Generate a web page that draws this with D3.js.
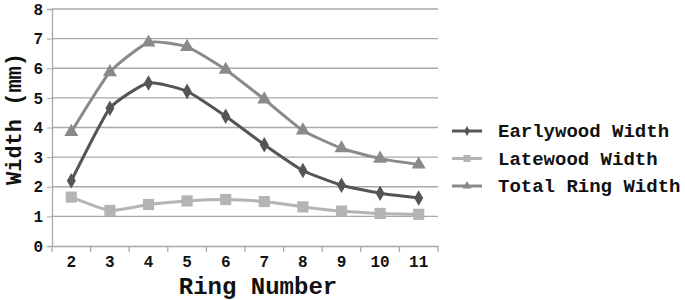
<!DOCTYPE html>
<html>
<head>
<meta charset="utf-8">
<script src="https://cdn.jsdelivr.net/npm/d3@7"></script>
<style>
  body { margin: 0; background: #fff; }
  text { font-family: "Liberation Mono", "Courier New", monospace; font-weight: bold; }
</style>
</head>
<body>
<svg id="chart" width="685" height="300"></svg>
<script>
const rings = [2, 3, 4, 5, 6, 7, 8, 9, 10, 11]
const earlywood = [2.2, 4.65, 5.5, 5.22, 4.38, 3.42, 2.55, 2.05, 1.78, 1.62]
const latewood = [1.65, 1.2, 1.4, 1.52, 1.57, 1.5, 1.32, 1.18, 1.1, 1.07]
const totalRing = [3.85, 5.87, 6.87, 6.72, 5.95, 4.95, 3.9, 3.3, 2.95, 2.75]
const yTicks = [0, 1, 2, 3, 4, 5, 6, 7, 8]

const series = [
  { name: 'Earlywood Width', values: earlywood, color: '#555555', shape: d3.symbolDiamond, size: 70 },
  { name: 'Latewood Width', values: latewood, color: '#b4b4b4', shape: d3.symbolSquare, size: 125 },
  { name: 'Total Ring Width', values: totalRing, color: '#8a8a8a', shape: d3.symbolTriangle, size: 85 }
]

const svg = d3.select('#chart')
const plotLeft = 52, plotRight = 438, plotTop = 9, plotBottom = 246

const x = d3.scaleBand().domain(rings).range([plotLeft, plotRight])
const y = d3.scaleLinear().domain([0, 8]).range([plotBottom, plotTop])

// gridlines
svg.append('g')
  .selectAll('line')
  .data(yTicks.filter(d => d > 0))
  .join('line')
  .attr('x1', plotLeft).attr('x2', plotRight)
  .attr('y1', d => y(d)).attr('y2', d => y(d))
  .attr('stroke', '#a9a9a9').attr('stroke-width', 1.3)

// y axis
const yAxis = svg.append('g')
  .attr('transform', `translate(${plotLeft},0)`)
  .call(d3.axisLeft(y).tickValues(yTicks).tickSize(5).tickPadding(4))
yAxis.select('.domain').attr('stroke', '#a9a9a9').attr('stroke-width', 1.3)
yAxis.selectAll('.tick line').attr('stroke', '#a9a9a9')
yAxis.selectAll('text').attr('font-size', 16).attr('fill', '#111')
  .attr('font-family', '"Liberation Mono", monospace').attr('font-weight', 'bold')

// x axis
const xAxis = svg.append('g')
  .attr('transform', `translate(0,${plotBottom})`)
  .call(d3.axisBottom(x).tickSize(0).tickPadding(10))
xAxis.select('.domain').attr('stroke', '#a9a9a9').attr('stroke-width', 1.3)
xAxis.selectAll('text').attr('font-size', 16).attr('fill', '#111')
  .attr('font-family', '"Liberation Mono", monospace').attr('font-weight', 'bold')

// x tick marks at band boundaries
svg.append('g')
  .selectAll('line')
  .data(rings.concat(['end']))
  .join('line')
  .attr('x1', d => d === 'end' ? plotRight : x(d))
  .attr('x2', d => d === 'end' ? plotRight : x(d))
  .attr('y1', plotBottom).attr('y2', plotBottom + 6)
  .attr('stroke', '#a9a9a9').attr('stroke-width', 1.3)

const cx = d => x(d) + x.bandwidth() / 2

const line = d3.line()
  .x((d, i) => cx(rings[i]))
  .y(d => y(d))
  .curve(d3.curveCardinal.tension(0.5))

series.forEach(s => {
  svg.append('path')
    .datum(s.values)
    .attr('d', line)
    .attr('fill', 'none')
    .attr('stroke', s.color)
    .attr('stroke-width', 3)

  svg.append('g')
    .selectAll('path')
    .data(s.values)
    .join('path')
    .attr('d', d3.symbol().type(s.shape).size(s.size))
    .attr('transform', (d, i) => `translate(${cx(rings[i])},${y(d)})`)
    .attr('fill', s.color)
})

// axis titles
svg.append('text')
  .text('Width (mm)')
  .attr('transform', 'translate(21,119) rotate(-90)')
  .attr('text-anchor', 'middle')
  .attr('font-size', 22)
  .attr('fill', '#111')

svg.append('text')
  .text('Ring Number')
  .attr('x', 258).attr('y', 294)
  .attr('text-anchor', 'middle')
  .attr('font-size', 24)
  .attr('fill', '#111')

// legend
const legend = svg.append('g')
  .selectAll('g')
  .data(series)
  .join('g')
  .attr('transform', (d, i) => `translate(452,${131 + i * 27.5})`)

legend.append('line')
  .attr('x1', 0).attr('x2', 30)
  .attr('stroke', d => d.color).attr('stroke-width', 3)
legend.append('path')
  .attr('d', d => d3.symbol().type(d.shape).size(d.size * 0.4)())
  .attr('transform', 'translate(15,0)')
  .attr('fill', d => d.color)
legend.append('text')
  .text(d => d.name)
  .attr('x', 46).attr('y', 6)
  .attr('font-size', 19)
  .attr('fill', '#111')
</script>
</body>
</html>
